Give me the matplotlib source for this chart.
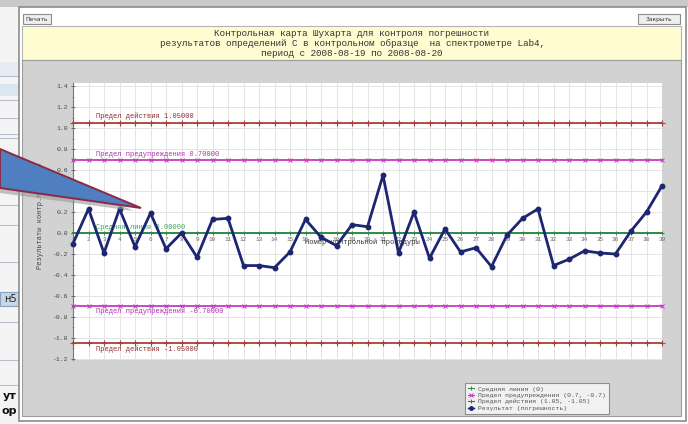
import matplotlib
matplotlib.use('Agg')
import matplotlib.pyplot as plt
from matplotlib.patches import Rectangle, Polygon
from matplotlib.lines import Line2D
import numpy as np

MONO = ['Liberation Mono', 'DejaVu Sans Mono']

# control chart data
procedures = list(range(1, 40))
errors = [-0.10, 0.23, -0.19, 0.23, -0.13, 0.19, -0.15, 0.00, -0.23, 0.13,
          0.14, -0.31, -0.31, -0.33, -0.18, 0.13, -0.04, -0.12, 0.08, 0.06,
          0.55, -0.19, 0.20, -0.24, 0.04, -0.18, -0.14, -0.32, -0.02, 0.14,
          0.23, -0.31, -0.25, -0.17, -0.19, -0.20, 0.02, 0.20, 0.45]
center_line = 0.0
warning_limit = 0.70
action_limit = 1.05
y_ticks = [-1.2, -1.0, -0.8, -0.6, -0.4, -0.2, 0.0, 0.2, 0.4, 0.6, 0.8, 1.0, 1.2, 1.4]

title_lines = ['Контрольная карта Шухарта для контроля погрешности',
               'результатов определений C в контрольном образце  на спектрометре Lab4,',
               'период с 2008-08-19 по 2008-08-20']
legend_labels = ['Средняя линия (0)',
                 'Предел предупреждения (0.7, -0.7)',
                 'Предел действия (1.05, -1.05)',
                 'Результат (погрешность)']

C_ACTION = '#a8403c'
C_WARN = '#c23cc2'
C_CENTER = '#2f8a45'
C_RESULT = '#1d2670'

W, H = 688, 424
fig = plt.figure(figsize=(W / 100, H / 100), dpi=100)
fig.patch.set_facecolor('white')

# --- window chrome drawn in pixel coordinates ---
bg = fig.add_axes([0, 0, 1, 1], zorder=0)
bg.set_xlim(0, W)
bg.set_ylim(H, 0)
bg.axis('off')

def rect(ax, x0, y0, x1, y1, fc, ec='none', lw=0.8, z=1):
    ax.add_patch(Rectangle((x0, y0), x1 - x0, y1 - y0, facecolor=fc,
                           edgecolor=ec, linewidth=lw, zorder=z))

# page behind the dialog (left strip)
rect(bg, 0, 0, 20, H, '#f4f4f4')
rect(bg, 0, 0, W, 7, '#c9c9c9')
rect(bg, 0, 62, 20, 76, '#e6ecf4')
rect(bg, 0, 84, 20, 96, '#dce6f2')
for yy in [76, 100, 118, 134, 138, 205, 225, 262, 322, 360, 385]:
    bg.plot([0, 19], [yy, yy], color='#b8c0cc', lw=0.8, zorder=2)
rect(bg, 0, 292, 18, 306, '#c9d6e8', '#8aa0c0')
bg.text(17, 299, 'н5', fontsize=7, ha='right', va='center', color='#222222',
        family='DejaVu Sans', zorder=3)
bg.text(17, 396, 'ут', fontsize=8, ha='right', va='center', color='#111111',
        family='DejaVu Sans', fontweight='bold', zorder=3)
bg.text(17, 411, 'ор', fontsize=8, ha='right', va='center', color='#111111',
        family='DejaVu Sans', fontweight='bold', zorder=3)

# dialog body
rect(bg, 19, 7, 686, 421, 'white', '#8c8c8c', lw=1.2, z=2)
rect(bg, 22, 26, 681, 60, '#fffcd2', '#b4b4b4', z=3)
rect(bg, 22, 60, 681, 416, '#d2d2d2', '#9c9c9c', z=3)
for x0, x1, label in [(23, 51, 'Печать'), (638, 680, 'Закрыть')]:
    rect(bg, x0, 14, x1, 24, '#eeeeee', '#8c8c8c', z=4)
    bg.text((x0 + x1) / 2, 19.2, label, fontsize=4.3, ha='center', va='center',
            family=['DejaVu Sans'], color='#333333', zorder=5)
for i, line in enumerate(title_lines):
    bg.text(352, 33 + i * 10, line, fontsize=6.7, ha='center', va='center',
            family=MONO, color='#333333', zorder=5)

# --- chart ---
px_x0, px_x1, px_y0, px_y1 = 73, 662, 83, 360
ax = fig.add_axes([px_x0 / W, 1 - px_y1 / H, (px_x1 - px_x0) / W,
                   (px_y1 - px_y0) / H], zorder=2)
ax.set_facecolor('white')
ax.set_xlim(1, 39)
ax.set_ylim(-1.21, 1.43)

# x axis runs along the zero line
ax.spines['bottom'].set_position(('data', 0))
ax.spines['bottom'].set_visible(False)
ax.spines['top'].set_visible(False)
ax.spines['right'].set_visible(False)
ax.spines['left'].set_color('#777777')
ax.spines['left'].set_linewidth(0.8)

ax.set_xticks(procedures)
ax.set_yticks(y_ticks)
ax.set_yticks(np.arange(-1.2, 1.41, 0.1), minor=True)
ax.set_yticklabels(['%.1f' % v for v in y_ticks])
ax.set_xticklabels([str(p) for p in procedures])
ax.tick_params(axis='x', length=0, pad=3, labelsize=4.3, labelcolor='#666666')
ax.tick_params(axis='y', which='major', length=3, width=0.6, color='#555555',
               direction='inout', pad=2, labelsize=4.6, labelcolor='#444444')
ax.tick_params(axis='y', which='minor', length=1.6, width=0.5, color='#777777',
               direction='inout')
for t in ax.get_xticklabels() + ax.get_yticklabels():
    t.set_family(MONO)
ax.grid(True, which='major', color='#e4e4e4', lw=0.7)
ax.set_axisbelow(True)

n = len(procedures)
ax.plot(procedures, [action_limit] * n, color=C_ACTION, lw=1.3, marker='+',
        ms=4, mew=0.8, clip_on=False, zorder=3)
ax.plot(procedures, [-action_limit] * n, color=C_ACTION, lw=1.3, marker='+',
        ms=4, mew=0.8, clip_on=False, zorder=3)
ax.plot(procedures, [warning_limit] * n, color=C_WARN, lw=1.3, marker='x',
        ms=3, mew=0.7, clip_on=False, zorder=3)
ax.plot(procedures, [-warning_limit] * n, color=C_WARN, lw=1.3, marker='x',
        ms=3, mew=0.7, clip_on=False, zorder=3)
ax.plot(procedures, [center_line] * n, color=C_CENTER, lw=1.4, marker='+',
        ms=3.5, mew=0.7, clip_on=False, zorder=3)
ax.plot(procedures, errors, color=C_RESULT, lw=2.0, marker='o', ms=3.2,
        clip_on=False, zorder=5)

lbl = dict(family=MONO, fontsize=5, va='center', ha='left', zorder=4)
ax.text(2.5, action_limit + 0.065, 'Предел действия %.5f' % action_limit,
        color='#8e2c2c', **lbl)
ax.text(2.5, warning_limit + 0.05, 'Предел предупреждения %.5f' % warning_limit,
        color='#b030b0', **lbl)
ax.text(2.5, center_line + 0.055, 'Средняя линия %.5f' % center_line,
        color='#3fa060', **lbl)
ax.text(2.5, -warning_limit - 0.05, 'Предел предупреждения %.5f' % -warning_limit,
        color='#b030b0', **lbl)
ax.text(2.5, -action_limit - 0.055, 'Предел действия %.5f' % -action_limit,
        color='#8e2c2c', **lbl)
ax.text(19.7, -0.09, 'Номер контрольной процедуры', family=MONO, fontsize=5,
        ha='center', va='center', color='#333333', zorder=4)
ax.set_ylabel('Результаты контр.процедур', family=MONO, fontsize=5,
              color='#444444')
ax.yaxis.set_label_coords(-0.05, 0.52)

handles = [
    Line2D([], [], color=C_CENTER, marker='+', lw=0.8, ms=3.5, mew=0.7),
    Line2D([], [], color=C_WARN, marker='x', lw=0.8, ms=3, mew=0.7),
    Line2D([], [], color=C_ACTION, marker='+', lw=0.8, ms=3.5, mew=0.7),
    Line2D([], [], color=C_RESULT, marker='o', lw=1.0, ms=2.5),
]
leg = ax.legend(handles, legend_labels, loc='lower left',
                bbox_to_anchor=(465 / W, 1 - 414 / H),
                bbox_transform=fig.transFigure, prop={'family': MONO, 'size': 4.6},
                frameon=True, fancybox=False, borderpad=0.5, labelspacing=0.15,
                handlelength=0.9, handletextpad=0.6, borderaxespad=0)
leg.get_frame().set_edgecolor('#7a7a7a')
leg.get_frame().set_facecolor('#fafafa')
leg.get_frame().set_linewidth(0.8)
for t in leg.get_texts():
    t.set_color('#555555')

# --- callout arrow on top ---
ov = fig.add_axes([0, 0, 1, 1], zorder=6)
ov.set_xlim(0, W)
ov.set_ylim(H, 0)
ov.axis('off')
ov.patch.set_alpha(0)
ov.add_patch(Polygon([(0, 153), (134, 211), (0, 193)], closed=True,
                     facecolor='#9a9a9a', edgecolor='none', alpha=0.6))
ov.add_patch(Polygon([(0, 149), (141, 208), (0, 188)], closed=True,
                     facecolor='#4f7fc0', edgecolor='#8a2a48', linewidth=1.4))

fig.savefig('out.png', dpi=100)
